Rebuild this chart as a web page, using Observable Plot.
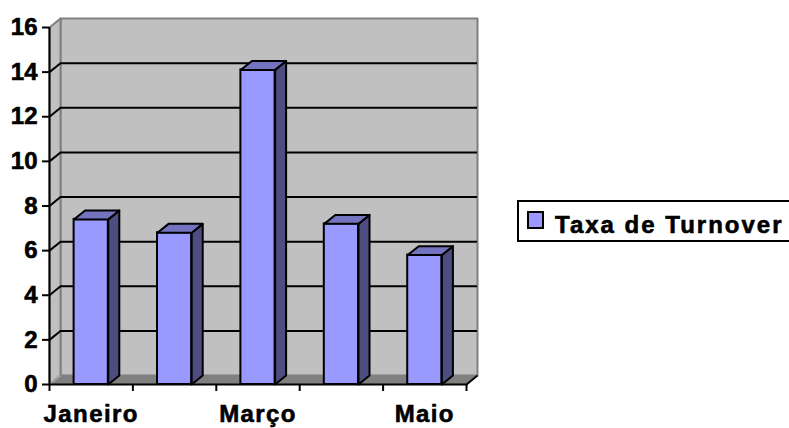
<!DOCTYPE html>
<html><head><meta charset="utf-8">
<script src="https://cdn.jsdelivr.net/npm/d3@7"></script>
<script src="https://cdn.jsdelivr.net/npm/@observablehq/plot@0.6"></script>
<style>
body{margin:0;background:#fff;}
#wrap{position:relative;width:789px;height:428px;overflow:hidden;}
#wrap svg text{stroke:#000;stroke-width:0.6px;fill:#000;}
#legend{position:absolute;left:517px;top:200px;width:290px;height:38px;border:2px solid #000;background:#fff;font:bold 24px "Liberation Sans",Arial,sans-serif;color:#000;}
#legend .sw{position:absolute;left:8px;top:9px;width:13px;height:14px;border:2px solid #000;background:#9999ff;}
#legend .lb{position:absolute;left:36px;top:9px;letter-spacing:2px;white-space:nowrap;line-height:28px;-webkit-text-stroke:0.6px #000;}
</style></head><body><div id="wrap"></div>
<script>
const categories = ["Janeiro", "Fevereiro", "Março", "Abril", "Maio"];
const values = [7.4, 6.8, 14.1, 7.2, 5.8];
const yTicks = [0, 2, 4, 6, 8, 10, 12, 14, 16];
const xLabels = ["Janeiro", "Março", "Maio"];
const seriesName = "Taxa de Turnover";

// 3D depth (in data units) and bar half width
const DX = 0.132, DY = 0.4, HW = 0.205;
const X0 = -0.5, X1 = categories.length - 0.5;
const Y0 = yTicks[0], Y1 = yTicks[yTicks.length - 1];

const rows = categories.map((c, i) => ({c, i, v: values[i]}));
function closed(id, pts) { return [...pts, pts[0]].map(([x, y]) => ({id, x, y})); }
const leftWall = closed("lw", [[X0, Y0], [X0, Y1], [X0 + DX, Y1 + DY], [X0 + DX, Y0 + DY]]);
const backWall = closed("bw", [[X0 + DX, Y0 + DY], [X0 + DX, Y1 + DY], [X1 + DX, Y1 + DY], [X1 + DX, Y0 + DY]]);
const floor = closed("fl", [[X0, Y0], [X1, Y0], [X1 + DX, Y0 + DY], [X0 + DX, Y0 + DY]]);
const sides = rows.flatMap(r => closed("s" + r.i, [[r.i + HW, Y0], [r.i + HW, r.v], [r.i + HW + DX, r.v + DY], [r.i + HW + DX, Y0 + DY]]));
const tops = rows.flatMap(r => closed("t" + r.i, [[r.i - HW, r.v], [r.i + HW, r.v], [r.i + HW + DX, r.v + DY], [r.i - HW + DX, r.v + DY]]));
const boundaries = d3.range(categories.length + 1).map(k => k - 0.5);

const plot = Plot.plot({
  width: 789, height: 428,
  marginLeft: 49, marginRight: 323, marginTop: 27, marginBottom: 44,
  x: {type: "linear", domain: [X0, X1]},
  y: {domain: [Y0, Y1]},
  style: {fontFamily: '"Liberation Sans", Arial, sans-serif', background: "#fff", color: "#000", overflow: "visible"},
  marks: [
    Plot.line(backWall, {x: "x", y: "y", z: "id", fill: "#c0c0c0", stroke: "#808080", strokeWidth: 2}),
    Plot.line(leftWall, {x: "x", y: "y", z: "id", fill: "#c0c0c0", stroke: "#808080", strokeWidth: 2}),
    Plot.ruleY(yTicks.filter(t => t > Y0 && t < Y1), {y: t => t + DY, x1: () => X0 + DX, x2: () => X1 + DX, stroke: "#000", strokeWidth: 2}),
    Plot.link(yTicks.filter(t => t > Y0 && t < Y1), {x1: () => X0, y1: t => t, x2: () => X0 + DX, y2: t => t + DY, stroke: "#000", strokeWidth: 2}),
    Plot.line(floor, {x: "x", y: "y", z: "id", fill: "#808080", stroke: "#808080", strokeWidth: 1}),
    Plot.link([Y0], {x1: () => X0, y1: t => t, x2: () => X0 + DX, y2: t => t + DY, stroke: "#a0a0a0", strokeWidth: 2}),
    Plot.ruleX([X0], {y1: Y0, y2: Y1, stroke: "#000", strokeWidth: 2}),
    Plot.ruleY([Y0], {x1: X0, x2: X1, stroke: "#000", strokeWidth: 2}),
    Plot.link([X1], {x1: d => d, y1: () => Y0, x2: d => d + DX, y2: () => Y0 + DY, stroke: "#000", strokeWidth: 2}),
    Plot.axisY(yTicks, {anchor: "left", tickSize: 7, tickPadding: 5, strokeWidth: 2, fontSize: 24, fontWeight: "bold", label: null}),
    Plot.axisX(boundaries, {anchor: "bottom", tickSize: 7, tickFormat: () => "", strokeWidth: 2, label: null}),
    Plot.rect(rows, {x1: r => r.i - HW, x2: r => r.i + HW, y1: () => Y0, y2: "v", fill: "#9999ff", stroke: "#000", strokeWidth: 2}),
    Plot.line(sides, {x: "x", y: "y", z: "id", fill: "#4d4d80", stroke: "#000", strokeWidth: 2, strokeLinejoin: "round"}),
    Plot.line(tops, {x: "x", y: "y", z: "id", fill: "#7373bf", stroke: "#000", strokeWidth: 2, strokeLinejoin: "round"}),
    Plot.text(xLabels, {x: d => categories.indexOf(d), y: () => Y0, dy: 30, text: d => d, fontSize: 24, fontWeight: "bold"})
  ]
});
d3.select(plot).selectAll('g[aria-label="text"] text').attr("letter-spacing", "1.4px");

const wrap = document.getElementById("wrap");
wrap.appendChild(plot);
const legend = document.createElement("div");
legend.id = "legend";
const sw = document.createElement("div"); sw.className = "sw";
const lb = document.createElement("div"); lb.className = "lb"; lb.textContent = seriesName;
legend.appendChild(sw); legend.appendChild(lb);
wrap.appendChild(legend);
</script></body></html>
